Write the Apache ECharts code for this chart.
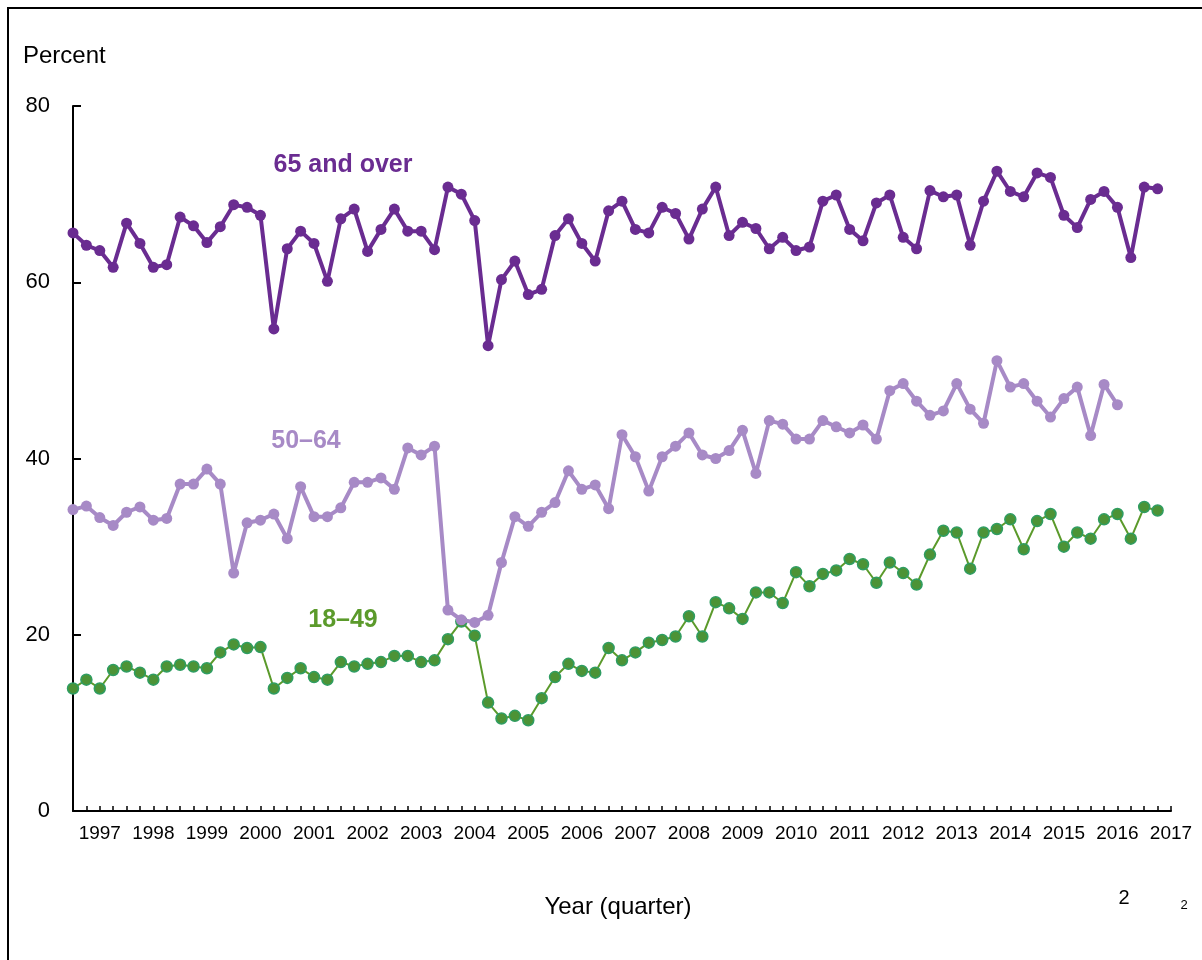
<!DOCTYPE html>
<html>
<head>
<meta charset="utf-8">
<script src="https://cdn.jsdelivr.net/npm/echarts@6/dist/echarts.min.js"></script>
<style>
  html, body { margin: 0; padding: 0; background: #fff; }
  #chart { width: 1202px; height: 960px; }
</style>
</head>
<body>
<div id="chart"></div>
<script>
// Tick labels (years) and quarterly categories
const yearLabels = ['1997','1998','1999','2000','2001','2002','2003','2004','2005','2006','2007',
  '2008','2009','2010','2011','2012','2013','2014','2015','2016','2017'];
const quarterNames = ['Q1','Q2','Q3','Q4'];

// Series values (percent), one per quarter
const age65over = [65.6, 64.2, 63.6, 61.7, 66.7, 64.4, 61.7, 62.0, 67.4, 66.4,
  64.5, 66.3, 68.8, 68.5, 67.6, 54.7, 63.8, 65.8, 64.4, 60.1,
  67.2, 68.3, 63.5, 66.0, 68.3, 65.8, 65.8, 63.7, 70.8, 70.0,
  67.0, 52.8, 60.3, 62.4, 58.6, 59.2, 65.3, 67.2, 64.4, 62.4,
  68.1, 69.2, 66.0, 65.6, 68.5, 67.8, 64.9, 68.3, 70.8, 65.3,
  66.8, 66.1, 63.8, 65.1, 63.6, 64.0, 69.2, 69.9, 66.0, 64.7,
  69.0, 69.9, 65.1, 63.8, 70.4, 69.7, 69.9, 64.2, 69.2, 72.6,
  70.3, 69.7, 72.4, 71.9, 67.6, 66.2, 69.4, 70.3, 68.5, 62.8,
  70.8, 70.6];

const age50to64 = [34.2, 34.6, 33.3, 32.4, 33.9, 34.5, 33.0, 33.2, 37.1, 37.1,
  38.8, 37.1, 27.0, 32.7, 33.0, 33.7, 30.9, 36.8, 33.4, 33.4,
  34.4, 37.3, 37.3, 37.8, 36.5, 41.2, 40.4, 41.4, 22.8, 21.7,
  21.4, 22.2, 28.2, 33.4, 32.3, 33.9, 35.0, 38.6, 36.5, 37.0,
  34.3, 42.7, 40.2, 36.3, 40.2, 41.4, 42.9, 40.4, 40.0, 40.9,
  43.2, 38.3, 44.3, 43.9, 42.2, 42.2, 44.3, 43.6, 42.9, 43.8,
  42.2, 47.7, 48.5, 46.5, 44.9, 45.4, 48.5, 45.6, 44.0, 51.1,
  48.1, 48.5, 46.5, 44.7, 46.8, 48.1, 42.6, 48.4, 46.1];

const age18to49 = [13.9, 14.9, 13.9, 16.0, 16.4, 15.7, 14.9, 16.4, 16.6, 16.4,
  16.2, 18.0, 18.9, 18.5, 18.6, 13.9, 15.1, 16.2, 15.2, 14.9,
  16.9, 16.4, 16.7, 16.9, 17.6, 17.6, 16.9, 17.1, 19.5, 21.5,
  19.9, 12.3, 10.5, 10.8, 10.3, 12.8, 15.2, 16.7, 15.9, 15.7,
  18.5, 17.1, 18.0, 19.1, 19.4, 19.8, 22.1, 19.8, 23.7, 23.0,
  21.8, 24.8, 24.8, 23.6, 27.1, 25.5, 26.9, 27.3, 28.6, 28.0,
  25.9, 28.2, 27.0, 25.7, 29.1, 31.8, 31.6, 27.5, 31.6, 32.0,
  33.1, 29.7, 32.9, 33.7, 30.0, 31.6, 30.9, 33.1, 33.7, 30.9,
  34.5, 34.1];

const categories = [];
yearLabels.forEach(y => quarterNames.forEach(q => categories.push(y + ' ' + q)));
categories.length = 83;

const FONT = '"Liberation Sans", Arial, sans-serif';
const chart = echarts.init(document.getElementById('chart'), null, { renderer: 'canvas' });

chart.setOption({
  animation: false,
  backgroundColor: '#ffffff',
  textStyle: { fontFamily: FONT },
  grid: { left: 73, right: 31, top: 106, bottom: 149, containLabel: false },
  xAxis: {
    type: 'category',
    data: categories,
    boundaryGap: false,
    axisLine: { lineStyle: { color: '#000', width: 2 } },
    axisTick: { show: true, inside: true, length: 5, interval: 0, lineStyle: { color: '#000', width: 1.5 } },
    axisLabel: {
      interval: (i) => i % 4 === 2,
      formatter: (v) => v.slice(0, 4),
      color: '#000', fontSize: 19, fontFamily: FONT, margin: 13
    },
    splitLine: { show: false }
  },
  yAxis: {
    type: 'value',
    min: 0, max: 80, interval: 20,
    axisLine: { show: true, lineStyle: { color: '#000', width: 2 } },
    axisTick: { show: true, inside: true, length: 8, lineStyle: { color: '#000', width: 2 } },
    axisLabel: { color: '#000', fontSize: 22, fontFamily: FONT, margin: 23 },
    splitLine: { show: false }
  },
  series: [
    {
      name: '18–49', type: 'line', data: age18to49,
      symbol: 'circle', symbolSize: 11, showAllSymbol: true,
      lineStyle: { color: '#5b9a2b', width: 2 },
      itemStyle: { color: '#4c9336', borderColor: '#2f9d62', borderWidth: 1.5 },
      z: 2
    },
    {
      name: '50–64', type: 'line', data: age50to64,
      symbol: 'circle', symbolSize: 11, showAllSymbol: true,
      lineStyle: { color: '#a78ac6', width: 4 },
      itemStyle: { color: '#a78ac6' },
      z: 3
    },
    {
      name: '65 and over', type: 'line', data: age65over,
      symbol: 'circle', symbolSize: 11, showAllSymbol: true,
      lineStyle: { color: '#6a2c91', width: 4 },
      itemStyle: { color: '#6a2c91' },
      z: 4
    }
  ],
  graphic: [
    { type: 'rect', shape: { x: 8, y: 8, width: 1300, height: 1000 },
      style: { fill: 'none', stroke: '#000', lineWidth: 2 }, silent: true },
    { type: 'text', left: 23, top: 44,
      style: { text: 'Percent', fill: '#000', font: '24px ' + FONT } },
    { type: 'text', x: 343, y: 165,
      style: { text: '65 and over', fill: '#6a2c91', font: 'bold 25px ' + FONT, textAlign: 'center', textVerticalAlign: 'middle' } },
    { type: 'text', x: 306, y: 441,
      style: { text: '50–64', fill: '#a78ac6', font: 'bold 25px ' + FONT, textAlign: 'center', textVerticalAlign: 'middle' } },
    { type: 'text', x: 343, y: 620,
      style: { text: '18–49', fill: '#5b9a2b', font: 'bold 25px ' + FONT, textAlign: 'center', textVerticalAlign: 'middle' } },
    { type: 'text', x: 618, y: 907,
      style: { text: 'Year (quarter)', fill: '#000', font: '24px ' + FONT, textAlign: 'center', textVerticalAlign: 'middle' } },
    { type: 'text', x: 1124, y: 898,
      style: { text: '2', fill: '#000', font: '20px ' + FONT, textAlign: 'center', textVerticalAlign: 'middle' } },
    { type: 'text', x: 1184, y: 905,
      style: { text: '2', fill: '#000', font: '13px ' + FONT, textAlign: 'center', textVerticalAlign: 'middle' } }
  ]
});
</script>
</body>
</html>
